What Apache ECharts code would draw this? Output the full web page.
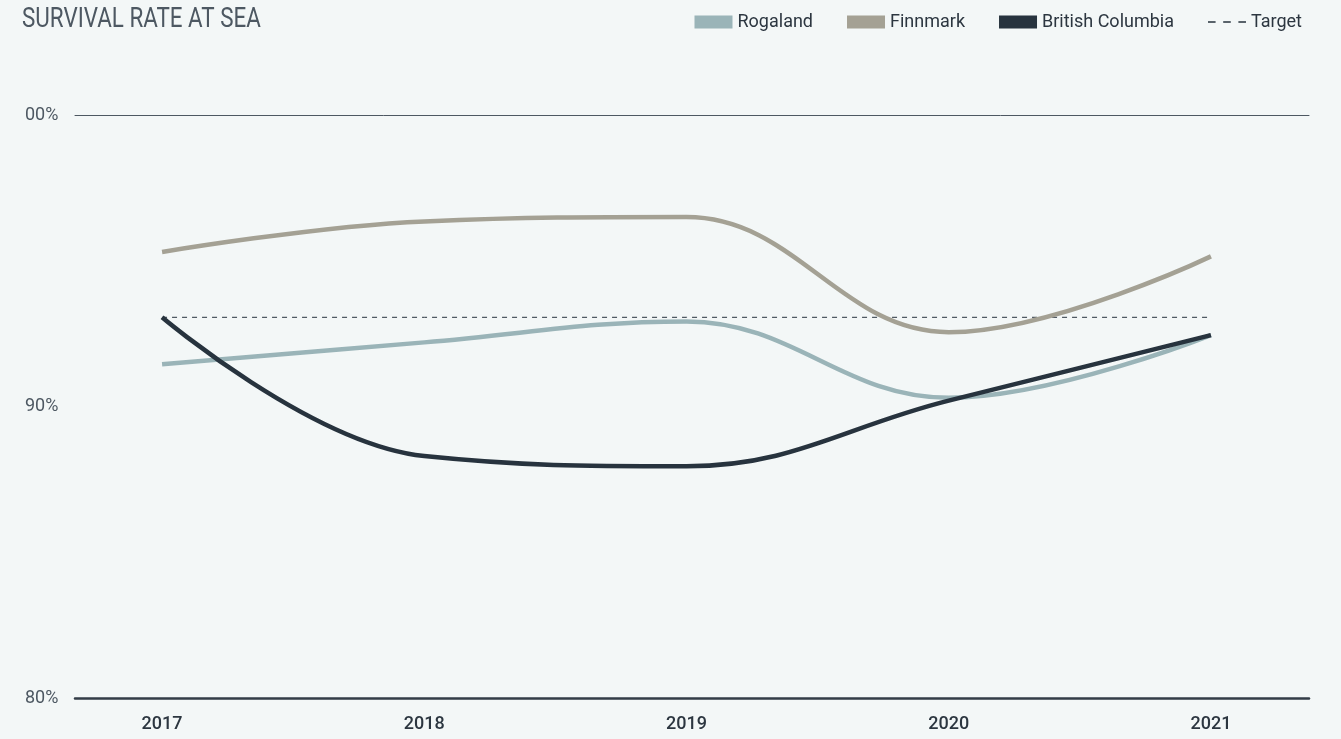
<!DOCTYPE html>
<html>
<head>
<meta charset="utf-8">
<script src="https://cdn.jsdelivr.net/npm/echarts@6/dist/echarts.min.js"></script>
<style>
  html, body { margin: 0; padding: 0; background: #f3f7f7; }
  #chart { width: 1341px; height: 739px; }
</style>
</head>
<body>
<div id="chart"></div>
<script>
// Survival rate at sea, % per year
const years = [2017, 2018, 2019, 2020, 2021]
const rogaland = [91.45, 92.2, 92.92, 90.3, 92.45]
const finnmark = [95.3, 96.35, 96.5, 92.55, 95.15]
const britishColumbia = [93.06, 88.3, 87.95, 90.2, 92.45]
const target = [93.06, 93.06, 93.06, 93.06, 93.06]
const yTicks = [80, 90, 100]
const yTickLabels = ['80%', '90%', '00%']

const pairs = arr => years.map((y, i) => [y, arr[i]])

const chart = echarts.init(document.getElementById('chart'))

const lineSeries = (name, values, color) => ({
    name: name,
    type: 'line',
    data: pairs(values),
    smooth: 0.4,
    showSymbol: false,
    symbol: 'none',
    lineStyle: { width: 4.5, color: color },
    itemStyle: { color: color }
})

chart.setOption({
    backgroundColor: '#f3f7f7',
    animation: false,
    graphic: [{
        type: 'text',
        x: 22,
        y: 6,
        scaleX: 0.8,
        style: {
            text: 'SURVIVAL RATE AT SEA',
            fontFamily: 'Roboto, sans-serif',
            fontSize: 28,
            fill: '#4d5862'
        }
    }],
    legend: {
        right: 34,
        top: 8,
        itemWidth: 38,
        itemHeight: 13,
        itemGap: 34,
        symbolKeepAspect: true,
        textStyle: { fontFamily: 'Roboto, sans-serif', fontSize: 18, color: '#2c3640' },
        data: [
            { name: 'Rogaland', icon: 'rect' },
            { name: 'Finnmark', icon: 'rect' },
            { name: 'British Columbia', icon: 'rect' },
            { name: 'Target', icon: 'path://M0,0h6v1.3h-6z M12,0h6v1.3h-6z M24,0h6v1.3h-6z' }
        ]
    },
    grid: { left: 75, right: 32, top: 115, bottom: 41 },
    xAxis: [{
        type: 'value',
        min: 2016.668,
        max: 2021.374,
        axisLine: { show: true, lineStyle: { color: '#333d47', width: 2.5 } },
        axisTick: { show: false },
        splitLine: { show: false },
        axisLabel: {
            customValues: years,
            margin: 17,
            fontFamily: 'Roboto, sans-serif',
            fontSize: 18,
            fontWeight: 500,
            color: '#2c3640',
            formatter: v => String(v)
        }
    }, {
        type: 'value',
        position: 'top',
        min: 2016.668,
        max: 2021.374,
        axisLine: { show: true, lineStyle: { color: '#4d5862', width: 1 } },
        axisTick: { show: false },
        axisLabel: { show: false },
        splitLine: { show: false }
    }],
    yAxis: {
        type: 'value',
        min: 80,
        max: 100,
        interval: 10,
        axisLine: { show: false },
        axisTick: { show: false },
        splitLine: { show: false },
        axisLabel: {
            align: 'left',
            margin: 50,
            fontFamily: 'Roboto, sans-serif',
            fontSize: 18,
            color: '#4d5862',
            formatter: v => yTickLabels[yTicks.indexOf(v)]
        }
    },
    series: [
        lineSeries('Rogaland', rogaland, '#9ab4b8'),
        lineSeries('Finnmark', finnmark, '#a4a194'),
        lineSeries('British Columbia', britishColumbia, '#27333e'),
        {
            name: 'Target',
            type: 'line',
            data: pairs(target),
            symbol: 'none',
            lineStyle: { width: 1, type: [5, 5], color: '#27333e' },
            itemStyle: { color: '#27333e' },
            z: 1
        }
    ]
})
</script>
</body>
</html>
